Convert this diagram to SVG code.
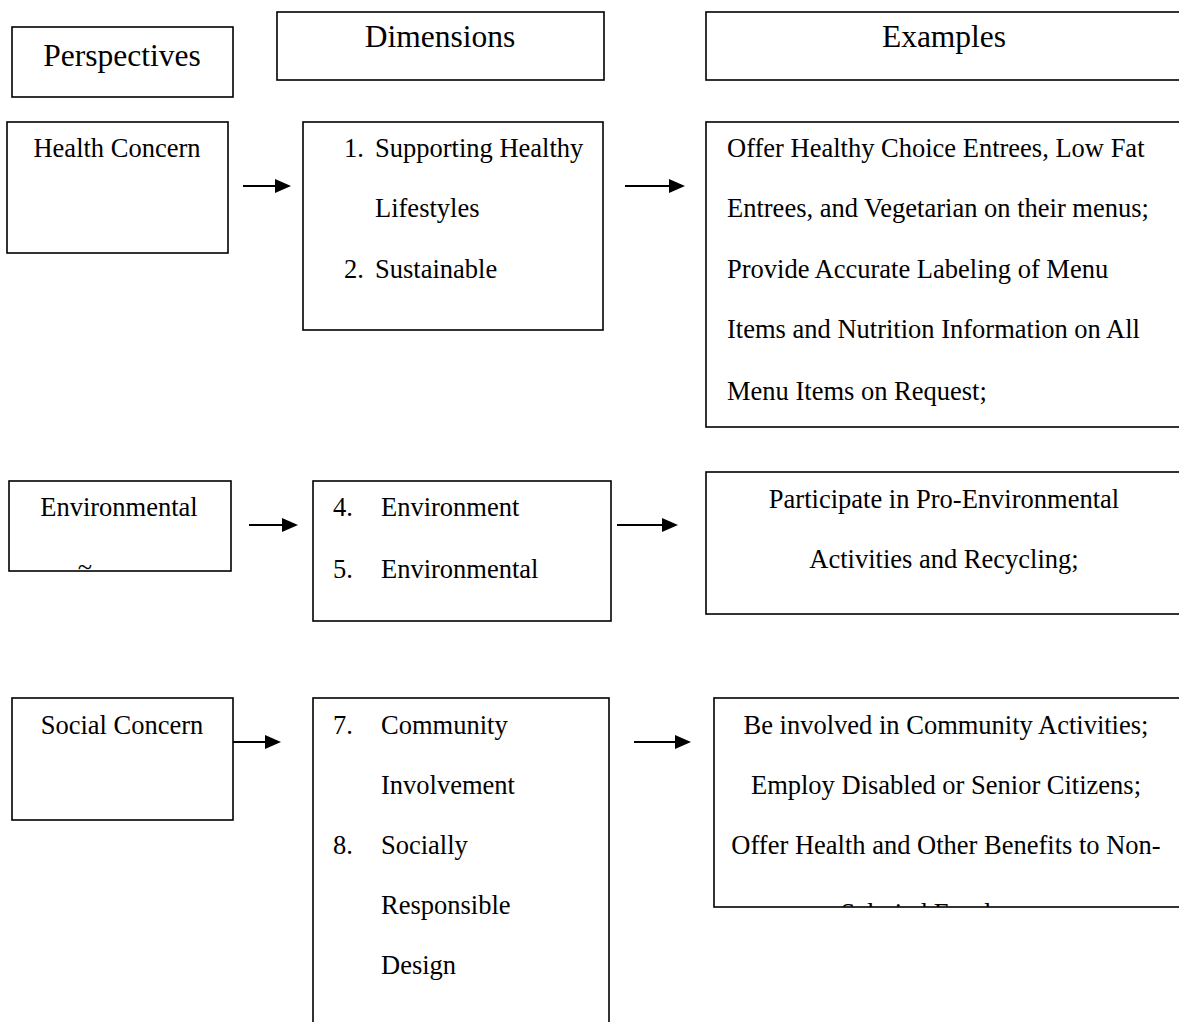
<svg xmlns="http://www.w3.org/2000/svg" width="1179" height="1022" viewBox="0 0 1179 1022">
<style>
.box{fill:#fff;stroke:#000;stroke-width:1.6}
.h{font-family:"Liberation Serif","Times New Roman",serif;font-size:31.5px;fill:#000}
.t{font-family:"Liberation Serif","Times New Roman",serif;font-size:26.5px;fill:#000}
.c{text-anchor:middle}
.arr{stroke:#000;stroke-width:2;fill:none;marker-end:url(#ah)}
</style>
<defs>
<marker id="ah" markerWidth="8" markerHeight="7" refX="7" refY="3.5" orient="auto" markerUnits="strokeWidth">
<path d="M0,0 L8,3.5 L0,7 z" fill="#000"/>
</marker>
<clipPath id="clipEnv"><rect x="9" y="481" width="222" height="90"/></clipPath>
<clipPath id="clipSoc"><rect x="714" y="698" width="470" height="209"/></clipPath>
</defs>

<g id="hdr-perspectives">
<rect class="box" x="12" y="27" width="221" height="70"/>
<text class="h c" x="122" y="66">Perspectives</text>
</g>
<g id="hdr-dimensions">
<rect class="box" x="277" y="12" width="327" height="68"/>
<text class="h c" x="440" y="47">Dimensions</text>
</g>
<g id="hdr-examples">
<rect class="box" x="706" y="12" width="480" height="68"/>
<text class="h c" x="944" y="47">Examples</text>
</g>

<g id="health-perspective">
<rect class="box" x="7" y="122" width="221" height="131"/>
<text class="t c" x="117" y="157">Health Concern</text>
</g>
<g id="health-dimensions">
<rect class="box" x="303" y="122" width="300" height="208"/>
<text class="t" x="344" y="157">1.</text>
<text class="t" x="375" y="157">Supporting Healthy</text>
<text class="t" x="375" y="217">Lifestyles</text>
<text class="t" x="344" y="278">2.</text>
<text class="t" x="375" y="278">Sustainable</text>
</g>
<g id="health-examples">
<rect class="box" x="706" y="122" width="480" height="305"/>
<text class="t" x="727" y="157">Offer Healthy Choice Entrees, Low Fat</text>
<text class="t" x="727" y="217">Entrees, and Vegetarian on their menus;</text>
<text class="t" x="727" y="278">Provide Accurate Labeling of Menu</text>
<text class="t" x="727" y="338">Items and Nutrition Information on All</text>
<text class="t" x="727" y="400">Menu Items on Request;</text>
</g>

<g id="env-perspective">
<rect class="box" x="9" y="481" width="222" height="90"/>
<text class="t c" x="119" y="516">Environmental</text>
<g clip-path="url(#clipEnv)"><text class="t c" x="85" y="576">~</text></g>
</g>
<g id="env-dimensions">
<rect class="box" x="313" y="481" width="298" height="140"/>
<text class="t" x="333" y="516">4.</text>
<text class="t" x="381" y="516">Environment</text>
<text class="t" x="333" y="578">5.</text>
<text class="t" x="381" y="578">Environmental</text>
</g>
<g id="env-examples">
<rect class="box" x="706" y="472" width="480" height="142"/>
<text class="t c" x="944" y="508">Participate in Pro-Environmental</text>
<text class="t c" x="944" y="568">Activities and Recycling;</text>
</g>

<g id="social-perspective">
<rect class="box" x="12" y="698" width="221" height="122"/>
<text class="t c" x="122" y="734">Social Concern</text>
</g>
<g id="social-dimensions">
<rect class="box" x="313" y="698" width="296" height="340"/>
<text class="t" x="333" y="734">7.</text>
<text class="t" x="381" y="734">Community</text>
<text class="t" x="381" y="794">Involvement</text>
<text class="t" x="333" y="854">8.</text>
<text class="t" x="381" y="854">Socially</text>
<text class="t" x="381" y="914">Responsible</text>
<text class="t" x="381" y="974">Design</text>
</g>
<g id="social-examples">
<rect class="box" x="714" y="698" width="470" height="209"/>
<g clip-path="url(#clipSoc)">
<text class="t c" x="946" y="734">Be involved in Community Activities;</text>
<text class="t c" x="946" y="794">Employ Disabled or Senior Citizens;</text>
<text class="t c" x="946" y="854">Offer Health and Other Benefits to Non-</text>
<text class="t c" x="946" y="922">Salaried Employees</text>
</g>
</g>

<g id="connectors">
<line class="arr" x1="243" y1="186" x2="289" y2="186"/>
<line class="arr" x1="625" y1="186" x2="683" y2="186"/>
<line class="arr" x1="249" y1="525" x2="296" y2="525"/>
<line class="arr" x1="617" y1="525" x2="676" y2="525"/>
<line class="arr" x1="233" y1="742" x2="279" y2="742"/>
<line class="arr" x1="634" y1="742" x2="689" y2="742"/>
</g>
</svg>
